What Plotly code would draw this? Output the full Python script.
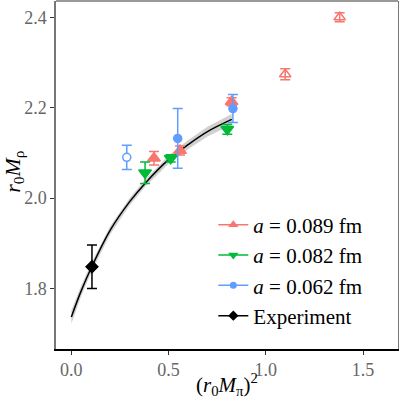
import plotly.graph_objects as go

# fit curve
curve_x = [0.0, 0.05, 0.105, 0.2, 0.3, 0.38, 0.5, 0.6, 0.7, 0.825]
curve_y = [1.737, 1.794, 1.848, 1.929, 1.992, 2.033, 2.085, 2.118, 2.147, 2.174]
band_lo = [1.722, 1.782, 1.838, 1.920, 1.984, 2.025, 2.076, 2.108, 2.136, 2.162]
band_hi = [1.752, 1.806, 1.858, 1.938, 2.000, 2.041, 2.094, 2.128, 2.158, 2.186]

# a = 0.089 fm
red_x = [0.425, 0.559, 0.824]
red_y = [2.088, 2.105, 2.213]
red_err = [0.015, 0.010, 0.009]
red_open_x = [1.10, 1.38]
red_open_y = [2.274, 2.400]
red_open_err = [0.012, 0.010]

# a = 0.082 fm
green_x = [0.379, 0.511, 0.802]
green_y = [2.056, 2.088, 2.152]
green_err = [0.024, 0.008, 0.011]

# a = 0.062 fm
blue_x = [0.547, 0.831]
blue_y = [2.132, 2.198]
blue_err = [0.066, 0.031]
blue_open_x = [0.285]
blue_open_y = [2.090]
blue_open_err = [0.027]

# experiment
exp_x = [0.106]
exp_y = [1.848]
exp_err = [0.048]

RED = "#F8766D"
GREEN = "#00BA38"
BLUE = "#619CFF"
FONT = "Liberation Serif"

fig = go.Figure()

fig.add_trace(go.Scatter(x=curve_x + curve_x[::-1], y=band_hi + band_lo[::-1],
                         fill="toself", fillcolor="rgba(170,170,170,0.55)",
                         line=dict(width=0), mode="lines", hoverinfo="skip",
                         showlegend=False))
fig.add_trace(go.Scatter(x=curve_x, y=curve_y, mode="lines", line_shape="spline",
                         line=dict(color="black", width=1.5), showlegend=False))


def pts(x, y, err, color, symbol, size, fill=None):
    return go.Scatter(x=x, y=y, mode="markers", showlegend=False,
                      marker=dict(symbol=symbol, size=size, color=fill or color,
                                  line=dict(color=color, width=1.5)),
                      error_y=dict(type="data", array=err, color=color,
                                   thickness=1.5, width=5))


fig.add_trace(pts(blue_open_x, blue_open_y, blue_open_err, BLUE, "circle", 8, "white"))
fig.add_trace(pts(red_open_x, red_open_y, red_open_err, RED, "triangle-up-open", 10))
fig.add_trace(pts(red_x, red_y, red_err, RED, "triangle-up", 11))
fig.add_trace(pts(green_x, green_y, green_err, GREEN, "triangle-down", 11))
fig.add_trace(pts(blue_x, blue_y, blue_err, BLUE, "circle", 8))
fig.add_trace(pts(exp_x, exp_y, exp_err, "black", "diamond", 9))

# legend entries
for name, color, symbol, size in [("<i>a</i> = 0.089 fm", RED, "triangle-up", 9),
                                  ("<i>a</i> = 0.082 fm", GREEN, "triangle-down", 9),
                                  ("<i>a</i> = 0.062 fm", BLUE, "circle", 7),
                                  ("Experiment", "black", "diamond", 8)]:
    fig.add_trace(go.Scatter(x=[None], y=[None], mode="lines+markers", name=name,
                             legendgroup=name,
                             line=dict(color=color, width=1.5),
                             marker=dict(symbol=symbol, size=size, color=color)))

fig.update_layout(
    width=399, height=401,
    margin=dict(l=56, r=1, t=1, b=52),
    plot_bgcolor="white", paper_bgcolor="white",
    font=dict(family=FONT, color="black"),
    legend=dict(x=0.46, y=0.415, xanchor="left", yanchor="top",
                font=dict(size=21, family=FONT), bgcolor="rgba(0,0,0,0)",
                tracegroupgap=0, itemwidth=30),
    xaxis=dict(range=[-0.079, 1.68], tickvals=[0, 0.5, 1.0, 1.5], tickformat=".1f",
               showgrid=False, zeroline=False, showline=True, linecolor="black",
               linewidth=1.5, ticks="outside", ticklen=4, tickcolor="#333",
               tickfont=dict(size=18, color="#666"), automargin=False),
    yaxis=dict(range=[1.666, 2.436], tickvals=[1.8, 2.0, 2.2, 2.4], tickformat=".1f",
               showgrid=False, zeroline=False, showline=True, linecolor="#777",
               linewidth=1.5, mirror=True, ticks="outside", ticklen=4, tickcolor="#333",
               tickfont=dict(size=18, color="#666"), automargin=False),
)
fig.add_shape(type="line", xref="paper", yref="paper", x0=0, x1=1, y0=1, y1=1,
              line=dict(color="#777", width=1.5))
# axis titles
fig.add_annotation(text="(<i>r</i><sub>0</sub><i>M</i><sub>π</sub>)<sup>2</sup>",
                   xref="paper", yref="paper", x=0.5, y=-0.15, xanchor="center",
                   yanchor="bottom", showarrow=False, font=dict(size=21))
fig.add_annotation(text="<i>r</i><sub>0</sub><i>M</i><sub>ρ</sub>", textangle=-90,
                   xref="paper", yref="paper", x=-0.125, y=0.51, xanchor="center",
                   yanchor="middle", showarrow=False, font=dict(size=22))

# drop the page's default body margin so the figure sits at the top-left corner
fig.write_html("out.html", config={"displayModeBar": False},
               post_script="document.body.style.margin='0';")
